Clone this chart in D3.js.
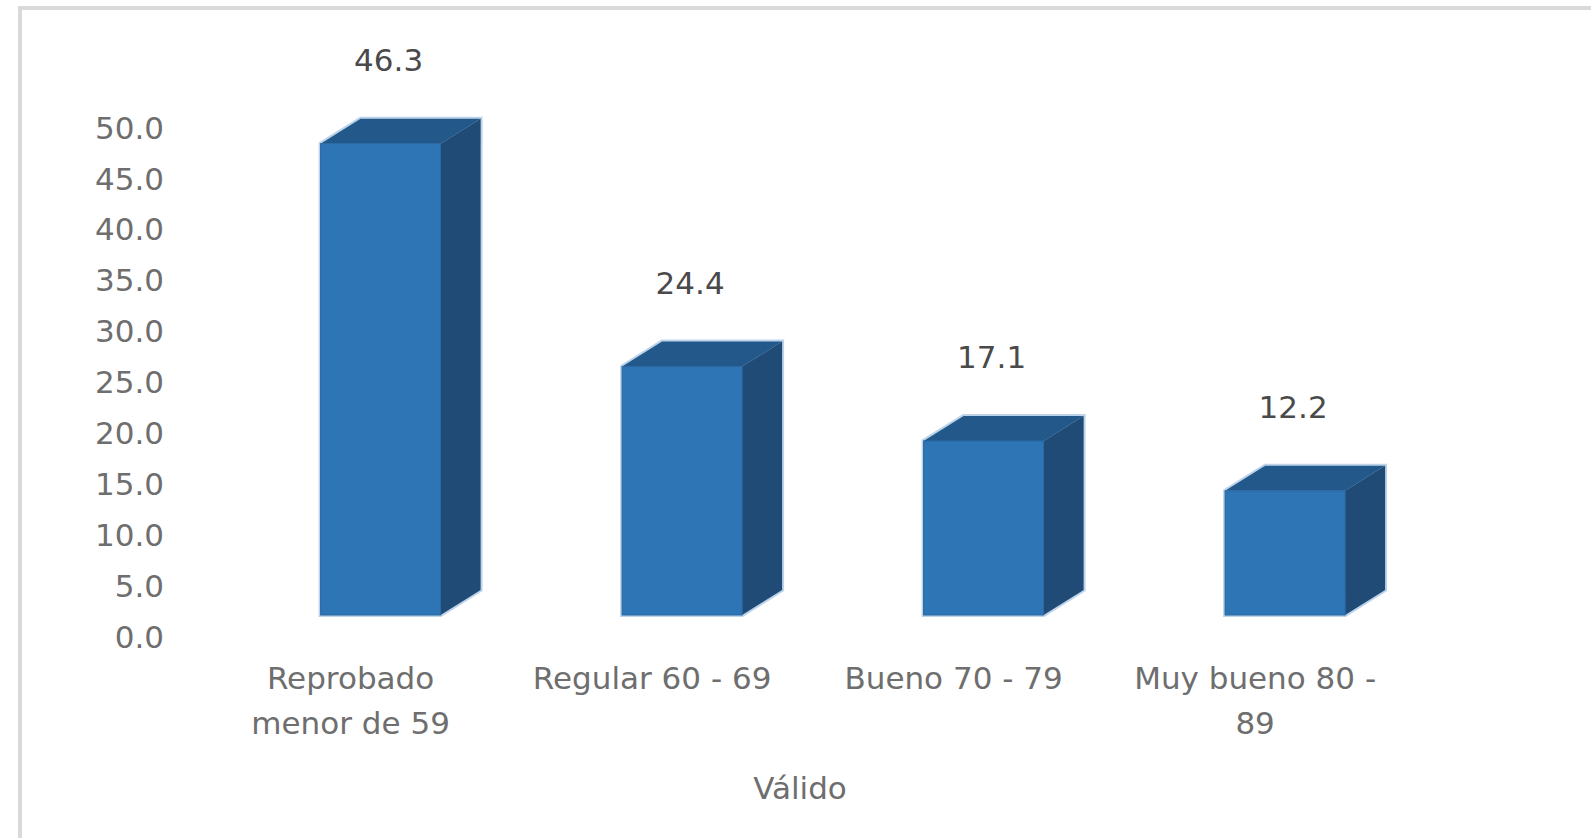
<!DOCTYPE html>
<html>
<head>
<meta charset="utf-8">
<script src="https://cdn.jsdelivr.net/npm/d3@7/dist/d3.min.js"></script>
<style>
  html, body { margin: 0; padding: 0; background: #ffffff; }
  svg { display: block; }
</style>
</head>
<body>
<script>
// ---- data ----
const categories = ["Reprobado menor de 59", "Regular 60 - 69", "Bueno 70 - 79", "Muy bueno 80 - 89"];
const values = [46.3, 24.4, 17.1, 12.2];
const yTicks = [0, 5, 10, 15, 20, 25, 30, 35, 40, 45, 50];
const xTitle = "Válido";

// ---- layout ----
const W = 1591, H = 838;
const FONT = "'DejaVu Sans', sans-serif";
const FS = 31;
const depthX = 40, depthY = 25;
const axisLabelShift = 21;   // value-axis labels sit below the bar floor (3D projection)
const catShift = -30;        // category labels are offset to the left of the front faces

const svg = d3.select("body").append("svg")
  .attr("width", W).attr("height", H);

// chart area border (top and left only visible)
svg.append("rect")
  .attr("x", 20).attr("y", 8)
  .attr("width", W + 20).attr("height", H + 20)
  .attr("fill", "#ffffff")
  .attr("stroke", "#d9d9d9").attr("stroke-width", 4);

const x = d3.scaleBand()
  .domain(categories)
  .range([229.85, 1435.85])
  .paddingInner(0.602)
  .paddingOuter(0.301);

const y = d3.scaleLinear().domain([0, 50]).range([615, 106]);

// ---- value axis labels ----
const yAxis = d3.axisLeft(y)
  .tickValues(yTicks)
  .tickFormat(d3.format(".1f"))
  .tickSize(0).tickPadding(0);

const gy = svg.append("g")
  .attr("transform", `translate(164,${axisLabelShift})`)
  .call(yAxis);
gy.select(".domain").remove();
gy.selectAll("text")
  .attr("font-family", FONT).attr("font-size", FS)
  .attr("fill", "#6e6e6e").attr("dy", "0.36em");

// ---- 3D bars ----
const bars = svg.append("g").selectAll("g.bar")
  .data(categories.map((c, i) => ({ c, v: values[i] })))
  .join("g").attr("class", "bar");

function silhouette(d) {
  const x0 = x(d.c), x1 = x0 + x.bandwidth();
  const y0 = y(0), y1 = y(d.v);
  return [[x0, y0], [x0, y1], [x0 + depthX, y1 - depthY], [x1 + depthX, y1 - depthY],
          [x1 + depthX, y0 - depthY], [x1, y0]];
}
const line = d3.line().curve(d3.curveLinearClosed);

bars.append("path")
  .attr("d", d => line(silhouette(d)))
  .attr("fill", "#b9d0e8").attr("stroke", "#bcd3ea").attr("stroke-width", 4)
  .attr("stroke-linejoin", "miter");

// side face
bars.append("path")
  .attr("d", d => {
    const x1 = x(d.c) + x.bandwidth(), y0 = y(0), y1 = y(d.v);
    return line([[x1, y0], [x1, y1], [x1 + depthX, y1 - depthY], [x1 + depthX, y0 - depthY]]);
  })
  .attr("fill", "#1f4b76");

// top face
bars.append("path")
  .attr("d", d => {
    const x0 = x(d.c), x1 = x0 + x.bandwidth(), y1 = y(d.v);
    return line([[x0, y1], [x0 + depthX, y1 - depthY], [x1 + depthX, y1 - depthY], [x1, y1]]);
  })
  .attr("fill", "#22588a");

// front face
bars.append("rect")
  .attr("x", d => x(d.c))
  .attr("y", d => y(d.v))
  .attr("width", x.bandwidth())
  .attr("height", d => y(0) - y(d.v))
  .attr("fill", "#2e75b6")
  .attr("stroke", "#2a67a0").attr("stroke-width", 1);

// data labels
bars.append("text")
  .attr("x", d => x(d.c) + x.bandwidth() / 2 + 8)
  .attr("y", d => y(d.v) - 84)
  .attr("dy", "0.36em")
  .attr("text-anchor", "middle")
  .attr("font-family", FONT).attr("font-size", FS)
  .attr("fill", "#4a4a4a")
  .text(d => d3.format(".1f")(d.v));

// ---- category axis labels ----
const xAxis = d3.axisBottom(x).tickSize(0).tickPadding(0);
const gx = svg.append("g")
  .attr("transform", `translate(${catShift},689)`)
  .call(xAxis);
gx.select(".domain").remove();
gx.selectAll("text")
  .attr("font-family", FONT).attr("font-size", FS)
  .attr("fill", "#6e6e6e")
  .attr("dy", 0)
  .call(wrap, 260);

function wrap(sel, width) {
  sel.each(function () {
    const text = d3.select(this);
    const words = text.text().split(/\s+/);
    text.text(null);
    let cur = [];
    let tspan = text.append("tspan").attr("x", 0).attr("dy", 0);
    words.forEach(w => {
      cur.push(w);
      tspan.text(cur.join(" "));
      if (tspan.node().getComputedTextLength() > width && cur.length > 1) {
        cur.pop();
        tspan.text(cur.join(" "));
        cur = [w];
        tspan = text.append("tspan").attr("x", 0).attr("dy", "1.45em").text(w);
      }
    });
  });
}

// ---- axis title ----
svg.append("text")
  .attr("x", 800).attr("y", 799)
  .attr("text-anchor", "middle")
  .attr("font-family", FONT).attr("font-size", FS)
  .attr("fill", "#6e6e6e")
  .text(xTitle);
</script>
</body>
</html>
